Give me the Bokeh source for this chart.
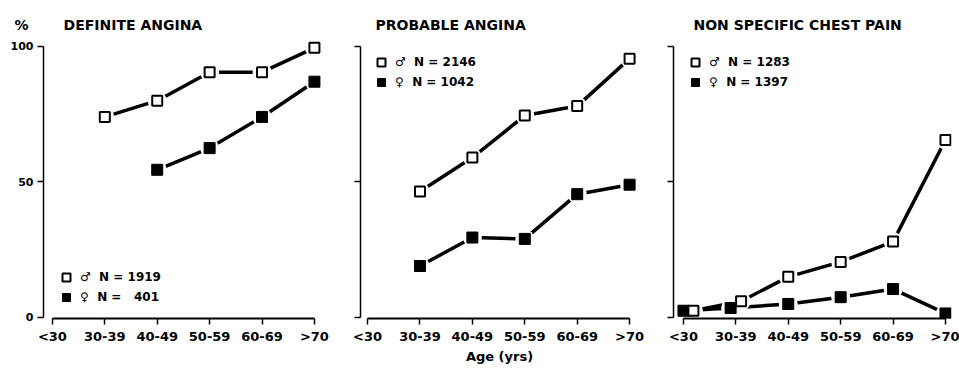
from bokeh.plotting import figure
from bokeh.models import Range1d, Legend, LegendItem, FixedTicker, ColumnDataSource
from bokeh.layouts import row
from bokeh.embed import file_html
from bokeh.resources import INLINE

# ---------------- data ----------------
age_groups = ["<30", "30-39", "40-49", "50-59", "60-69", ">70"]
y_ticks = [0, 50, 100]

titles = ["DEFINITE ANGINA", "PROBABLE ANGINA", "NON SPECIFIC CHEST PAIN"]
male_n = ["1919", "2146", "1283"]
female_n = ["\u2007401", "1042", "1397"]

definite_male = [None, 74, 80, 90.5, 90.5, 99.5]
definite_female = [None, None, 54.5, 62.5, 74, 87]
probable_male = [None, 46.5, 59, 74.5, 78, 95.5]
probable_female = [None, 19, 29.5, 29, 45.5, 49]
nonspecific_male = [2.5, 6, 15, 20.5, 28, 65.5]
nonspecific_female = [2.5, 3.5, 5, 7.5, 10.5, 1.5]

# small horizontal dodges used in the reference to keep overlapping squares visible
nonspecific_male_dx = [0.19, 0.1, 0, 0, 0, 0]
nonspecific_female_dx = [0, -0.1, 0, 0, 0, 0]

FONT = "DejaVu Sans"

panels = [
    dict(title="%\u2003\u2003\u2002" + titles[0], male=definite_male, female=definite_female,
         mdx=None, fdx=None, mn=male_n[0], fn=female_n[0],
         width=331, left=43, right=10, x0=-0.17, title_offset=-29,
         legend_loc=(12, 11), ylabels=True, xlabel=None),
    dict(title=titles[1], male=probable_male, female=probable_female,
         mdx=None, fdx=None, mn=male_n[1], fn=female_n[1],
         width=317, left=29, right=10, x0=-0.135, title_offset=15,
         legend_loc=(10, 226), ylabels=False, xlabel="Age (yrs)"),
    dict(title=titles[2], male=nonspecific_male, female=nonspecific_female,
         mdx=nonspecific_male_dx, fdx=nonspecific_female_dx, mn=male_n[2], fn=female_n[2],
         width=311, left=25, right=8, x0=-0.19, title_offset=20,
         legend_loc=(11, 226), ylabels=False, xlabel=None),
]


def series_source(values, dx):
    xs, ys = [], []
    for i, v in enumerate(values):
        if v is None:
            continue
        xs.append(i + (dx[i] if dx else 0))
        ys.append(v)
    return ColumnDataSource(dict(x=xs, y=ys))


figs = []
for k, pc in enumerate(panels):
    p = figure(width=pc["width"], height=369, output_backend="svg", toolbar_location=None,
               x_range=Range1d(pc["x0"], pc["x0"] + 5.305), y_range=Range1d(-0.37, 102.2),
               min_border_left=pc["left"], min_border_right=pc["right"],
               min_border_top=40, min_border_bottom=51)
    p.outline_line_color = None
    p.grid.visible = False
    p.background_fill_color = "white"

    # title
    p.title.text = pc["title"]
    p.title.text_font = FONT
    p.title.text_font_size = "14px"
    p.title.text_font_style = "bold"
    p.title.text_color = "black"
    p.title.align = "left"
    p.title.offset = pc["title_offset"]
    p.title.standoff = 15

    # x axis
    xa = p.xaxis[0]
    xa.ticker = FixedTicker(ticks=list(range(len(age_groups))))
    xa.major_label_overrides = {i: lab for i, lab in enumerate(age_groups)}
    xa.bounds = (0, len(age_groups) - 1)
    xa.axis_line_width = 2
    xa.axis_line_color = "black"
    xa.major_tick_line_width = 1.5
    xa.major_tick_line_color = "black"
    xa.major_tick_out = 6
    xa.major_tick_in = 0
    xa.minor_tick_line_color = None
    xa.major_label_text_font = FONT
    xa.major_label_text_font_size = "13px"
    xa.major_label_text_font_style = "bold"
    xa.major_label_text_color = "black"
    xa.major_label_standoff = 4
    if pc["xlabel"]:
        xa.axis_label = pc["xlabel"]
        xa.axis_label_text_font = FONT
        xa.axis_label_text_font_size = "13px"
        xa.axis_label_text_font_style = "bold"
        xa.axis_label_text_color = "black"
        xa.axis_label_standoff = 2

    # y axis
    ya = p.yaxis[0]
    ya.ticker = FixedTicker(ticks=y_ticks)
    ya.bounds = (0, 100)
    ya.axis_line_width = 1.5
    ya.axis_line_color = "black"
    ya.major_tick_line_width = 1.5
    ya.major_tick_line_color = "black"
    ya.major_tick_out = 6
    ya.major_tick_in = 0
    ya.minor_tick_line_color = None
    ya.major_label_text_font = FONT
    ya.major_label_text_font_size = "11px"
    ya.major_label_text_font_style = "bold"
    ya.major_label_text_color = "black"
    ya.major_label_standoff = 4
    if not pc["ylabels"]:
        ya.major_label_overrides = {t: "" for t in y_ticks}

    msrc = series_source(pc["male"], pc["mdx"])
    fsrc = series_source(pc["female"], pc["fdx"])

    for src in (msrc, fsrc):
        p.line("x", "y", source=src, line_color="black", line_width=3.5)
    for src in (msrc, fsrc):
        p.scatter("x", "y", source=src, marker="circle", size=19,
                  fill_color="white", line_color=None)
    f_r = p.scatter("x", "y", source=fsrc, marker="square", size=11,
                    fill_color="black", line_color="black", line_width=1)
    m_r = p.scatter("x", "y", source=msrc, marker="square", size=10,
                    fill_color="white", line_color="black", line_width=2)

    legend = Legend(items=[
        LegendItem(label="\u2642\u00a0 N = " + pc["mn"], renderers=[m_r]),
        LegendItem(label="\u2640\u00a0 N = " + pc["fn"], renderers=[f_r]),
    ], location=pc["legend_loc"], glyph_width=22, glyph_height=20, spacing=0,
        label_height=18, padding=0, margin=0, label_standoff=3, label_text_font=FONT,
        label_text_font_style="bold", label_text_font_size="12px",
        label_text_color="black",
        background_fill_alpha=0, border_line_alpha=0)
    p.add_layout(legend)
    figs.append(p)

layout = row(*figs)
layout.spacing = 0
open("out.html", "w").write(file_html(layout, INLINE))
